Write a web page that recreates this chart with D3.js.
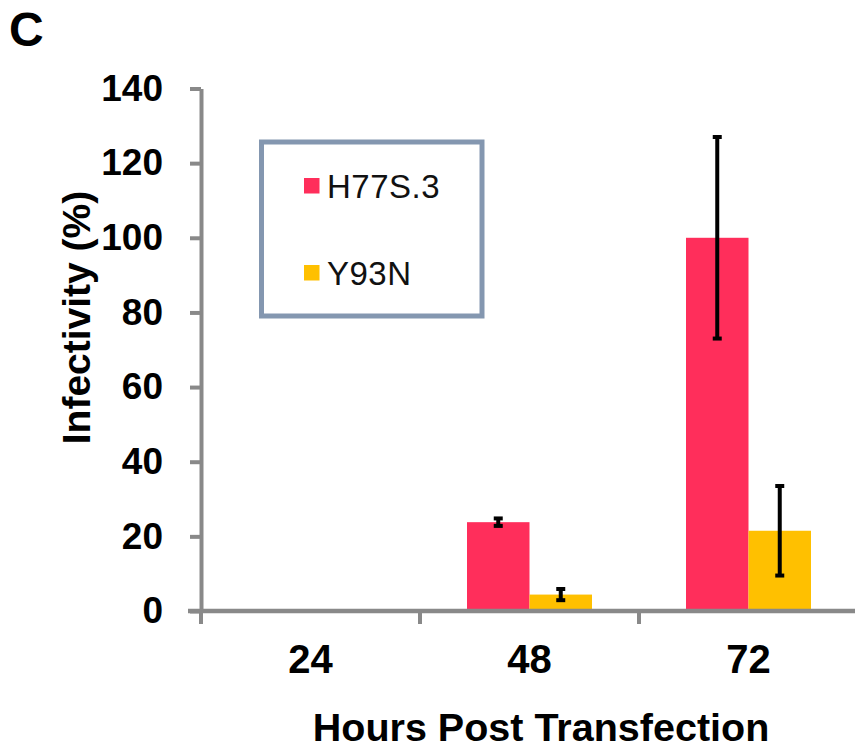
<!DOCTYPE html>
<html>
<head>
    <meta charset="utf-8">
    <title>Infectivity</title>
    <style>
        body { margin: 0; background: #fff; }
        svg text { font-family: Arial, "Liberation Sans", sans-serif; }
    </style>
</head>
<body>
<div id="chart"></div>
<script src="https://cdn.jsdelivr.net/npm/d3@7"></script>
<script>
    var categories = ['24', '48', '72'];
    var series = ['H77S.3', 'Y93N'];
    var colors = ['#FF2E5B', '#FFC000'];
    // values per series, one per category (24 h has no bars)
    var values = [
        [0, 23.8, 100],
        [0, 4.4, 21.5]
    ];
    var errors = [
        [0, 1.0, 27],
        [0, 1.5, 12]
    ];
    var yTicks = [0, 20, 40, 60, 80, 100, 120, 140];

    var w = 855, h = 745;
    var axisColor = '#898989';

    var svg = d3.select('#chart')
            .append('svg')
            .attr('width', w)
            .attr('height', h);

    var x = d3.scaleBand().domain(categories).range([201, 858]);
    var x1 = d3.scaleBand().domain(series).range([0, x.bandwidth()]).paddingOuter(0.752);
    var y = d3.scaleLinear().domain([0, 140]).range([611, 88.5]);

    // panel letter
    svg.append('text')
            .attr('x', 9)
            .attr('y', 46)
            .style('font-size', '48px')
            .style('font-weight', 'bold')
            .text('C');

    // bars
    var rows = [];
    series.forEach(function(s, si) {
        categories.forEach(function(c, ci) {
            if (values[si][ci] > 0) {
                rows.push({s: s, c: c, v: values[si][ci], e: errors[si][ci], color: colors[si]});
            }
        });
    });

    svg.selectAll('rect.bar')
            .data(rows)
            .enter()
            .append('rect')
            .attr('class', 'bar')
            .attr('x', function(d) { return x(d.c) + x1(d.s); })
            .attr('y', function(d) { return y(d.v); })
            .attr('width', x1.bandwidth())
            .attr('height', function(d) { return y(0) - y(d.v); })
            .attr('fill', function(d) { return d.color; });

    // error bars
    var err = svg.selectAll('g.err')
            .data(rows)
            .enter()
            .append('g')
            .attr('class', 'err')
            .attr('stroke', '#000')
            .attr('stroke-width', 4);

    function cx(d) { return x(d.c) + x1(d.s) + x1.bandwidth() / 2; }

    err.append('line')
            .attr('x1', cx).attr('x2', cx)
            .attr('y1', function(d) { return y(d.v + d.e); })
            .attr('y2', function(d) { return y(d.v - d.e); });
    err.append('line')
            .attr('x1', function(d) { return cx(d) - 4.5; })
            .attr('x2', function(d) { return cx(d) + 4.5; })
            .attr('y1', function(d) { return y(d.v + d.e); })
            .attr('y2', function(d) { return y(d.v + d.e); });
    err.append('line')
            .attr('x1', function(d) { return cx(d) - 4.5; })
            .attr('x2', function(d) { return cx(d) + 4.5; })
            .attr('y1', function(d) { return y(d.v - d.e); })
            .attr('y2', function(d) { return y(d.v - d.e); });

    // y axis
    var yAxis = svg.append('g')
            .attr('transform', 'translate(201,0)')
            .call(d3.axisLeft(y).tickValues(yTicks).tickSize(11).tickSizeOuter(0).tickPadding(27));
    yAxis.select('.domain').attr('stroke', axisColor).attr('stroke-width', 4);
    yAxis.selectAll('.tick line').attr('stroke', axisColor).attr('stroke-width', 4);
    yAxis.selectAll('.tick text')
            .attr('fill', '#000')
            .style('font-size', '37px')
            .style('font-weight', 'bold')
            .style('font-family', 'Arial, "Liberation Sans", sans-serif');

    // x axis: line plus ticks at category boundaries
    svg.append('line')
            .attr('x1', 188).attr('x2', 858)
            .attr('y1', y(0)).attr('y2', y(0))
            .attr('stroke', axisColor).attr('stroke-width', 4.5);
    var bounds = categories.map(function(c) { return x(c); }).concat([x.range()[1]]);
    svg.selectAll('line.xtick')
            .data(bounds)
            .enter()
            .append('line')
            .attr('class', 'xtick')
            .attr('x1', function(d) { return d; })
            .attr('x2', function(d) { return d; })
            .attr('y1', y(0))
            .attr('y2', y(0) + 13)
            .attr('stroke', axisColor)
            .attr('stroke-width', 4);

    svg.selectAll('text.xlab')
            .data(categories)
            .enter()
            .append('text')
            .attr('class', 'xlab')
            .attr('x', function(d) { return x(d) + x.bandwidth() / 2; })
            .attr('y', 673)
            .attr('text-anchor', 'middle')
            .style('font-size', '40px')
            .style('font-weight', 'bold')
            .text(function(d) { return d; });

    // axis titles
    svg.append('text')
            .attr('x', 541)
            .attr('y', 741)
            .attr('text-anchor', 'middle')
            .style('font-size', '39.5px')
            .style('font-weight', 'bold')
            .text('Hours Post Transfection');

    svg.append('text')
            .attr('transform', 'translate(90,317.5) rotate(-90)')
            .attr('text-anchor', 'middle')
            .style('font-size', '39px')
            .style('font-weight', 'bold')
            .text('Infectivity (%)');

    // legend
    var legend = svg.append('g');
    legend.append('rect')
            .attr('x', 261.5).attr('y', 142)
            .attr('width', 220.5).attr('height', 174)
            .attr('fill', 'none')
            .attr('stroke', '#8497B0')
            .attr('stroke-width', 5);
    var item = legend.selectAll('g.item')
            .data(series)
            .enter()
            .append('g')
            .attr('class', 'item')
            .attr('transform', function(d, i) { return 'translate(304,' + (178 + i * 87) + ')'; });
    item.append('rect')
            .attr('width', 15.5).attr('height', 15.5)
            .attr('fill', function(d, i) { return colors[i]; });
    item.append('text')
            .attr('x', 23)
            .attr('y', 20)
            .attr('fill', '#111')
            .style('font-size', '33px')
            .style('letter-spacing', '0.5px')
            .text(function(d) { return d; });
</script>
</body>
</html>
